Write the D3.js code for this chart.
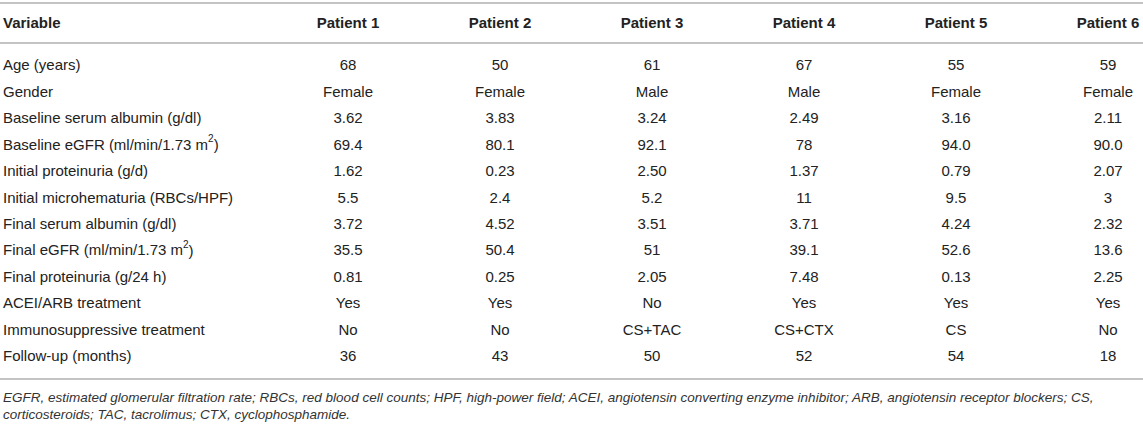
<!DOCTYPE html>
<html>
<head>
<meta charset="utf-8">
<script src="https://cdn.jsdelivr.net/npm/d3@7"></script>
<style>
  html, body { margin: 0; padding: 0; background: #fff; }
  svg { display: block; font-family: "Liberation Sans", Arial, Helvetica, sans-serif; }
</style>
</head>
<body>
<svg width="1143" height="426"></svg>
<script>
const width = 1143;
const height = 426;

// table content
const patients = ["Patient 1", "Patient 2", "Patient 3", "Patient 4", "Patient 5", "Patient 6"];
const variables = [
  "Age (years)",
  "Gender",
  "Baseline serum albumin (g/dl)",
  "Baseline eGFR (ml/min/1.73 m^2)",
  "Initial proteinuria (g/d)",
  "Initial microhematuria (RBCs/HPF)",
  "Final serum albumin (g/dl)",
  "Final eGFR (ml/min/1.73 m^2)",
  "Final proteinuria (g/24 h)",
  "ACEI/ARB treatment",
  "Immunosuppressive treatment",
  "Follow-up (months)"
];
const age = ["68", "50", "61", "67", "55", "59"];
const gender = ["Female", "Female", "Male", "Male", "Female", "Female"];
const baseAlbumin = ["3.62", "3.83", "3.24", "2.49", "3.16", "2.11"];
const baseEgfr = ["69.4", "80.1", "92.1", "78", "94.0", "90.0"];
const initProteinuria = ["1.62", "0.23", "2.50", "1.37", "0.79", "2.07"];
const initHematuria = ["5.5", "2.4", "5.2", "11", "9.5", "3"];
const finalAlbumin = ["3.72", "4.52", "3.51", "3.71", "4.24", "2.32"];
const finalEgfr = ["35.5", "50.4", "51", "39.1", "52.6", "13.6"];
const finalProteinuria = ["0.81", "0.25", "2.05", "7.48", "0.13", "2.25"];
const aceiArb = ["Yes", "Yes", "No", "Yes", "Yes", "Yes"];
const immuno = ["No", "No", "CS+TAC", "CS+CTX", "CS", "No"];
const followUp = ["36", "43", "50", "52", "54", "18"];
const footnotes = [
  "EGFR, estimated glomerular filtration rate; RBCs, red blood cell counts; HPF, high-power field; ACEI, angiotensin converting enzyme inhibitor; ARB, angiotensin receptor blockers; CS,",
  "corticosteroids; TAC, tacrolimus; CTX, cyclophosphamide."
];

const values = [age, gender, baseAlbumin, baseEgfr, initProteinuria, initHematuria,
  finalAlbumin, finalEgfr, finalProteinuria, aceiArb, immuno, followUp];
const rows = variables.map((v, i) => ({ label: v, values: values[i] }));

const svg = d3.select("svg");

const x = d3.scaleLinear().domain([0, patients.length - 1]).range([348, 1108]);
const y = d3.scaleLinear().domain([0, rows.length - 1]).range([65, 356]);

const textColor = "#222";
const ruleColor = "#c4c4c4";
const fs = 15;

// rules
[3, 43, 379].forEach(yy => {
  svg.append("line")
    .attr("x1", 0).attr("x2", width)
    .attr("y1", yy).attr("y2", yy)
    .attr("stroke", ruleColor)
    .attr("stroke-width", 2);
});

// header
svg.append("text")
  .attr("x", 3).attr("y", 23).attr("dy", "0.35em")
  .attr("font-size", fs).attr("font-weight", "bold")
  .attr("fill", textColor)
  .text("Variable");

svg.selectAll(".head")
  .data(patients)
  .enter().append("text")
  .attr("class", "head")
  .attr("x", (d, i) => x(i)).attr("y", 23).attr("dy", "0.35em")
  .attr("text-anchor", "middle")
  .attr("font-size", fs).attr("font-weight", "bold")
  .attr("fill", textColor)
  .text(d => d);

// row labels, with superscript for m^2
const labels = svg.selectAll(".label")
  .data(rows)
  .enter().append("text")
  .attr("class", "label")
  .attr("x", 3).attr("y", (d, i) => y(i)).attr("dy", "0.35em")
  .attr("font-size", fs)
  .attr("fill", textColor);

labels.each(function(d) {
  const t = d3.select(this);
  const parts = d.label.split("^");
  if (parts.length === 1) {
    t.text(d.label);
  } else {
    t.append("tspan").text(parts[0]);
    t.append("tspan").attr("font-size", 10).attr("dy", "-0.75em").text(parts[1][0]);
    t.append("tspan").attr("dy", "0.55em").text(parts[1].slice(1));
  }
});

// cells
const rowG = svg.selectAll(".row")
  .data(rows)
  .enter().append("g")
  .attr("class", "row")
  .attr("transform", (d, i) => `translate(0,${y(i)})`);

rowG.selectAll("text")
  .data(d => d.values)
  .enter().append("text")
  .attr("x", (d, i) => x(i)).attr("dy", "0.35em")
  .attr("text-anchor", "middle")
  .attr("font-size", fs)
  .attr("fill", textColor)
  .text(d => d);

// footnote
svg.selectAll(".foot")
  .data(footnotes)
  .enter().append("text")
  .attr("class", "foot")
  .attr("x", 3).attr("y", (d, i) => 397 + i * 17).attr("dy", "0.35em")
  .attr("font-size", 13.5).attr("font-style", "italic")
  .attr("fill", "#333")
  .text(d => d);
</script>
</body>
</html>
